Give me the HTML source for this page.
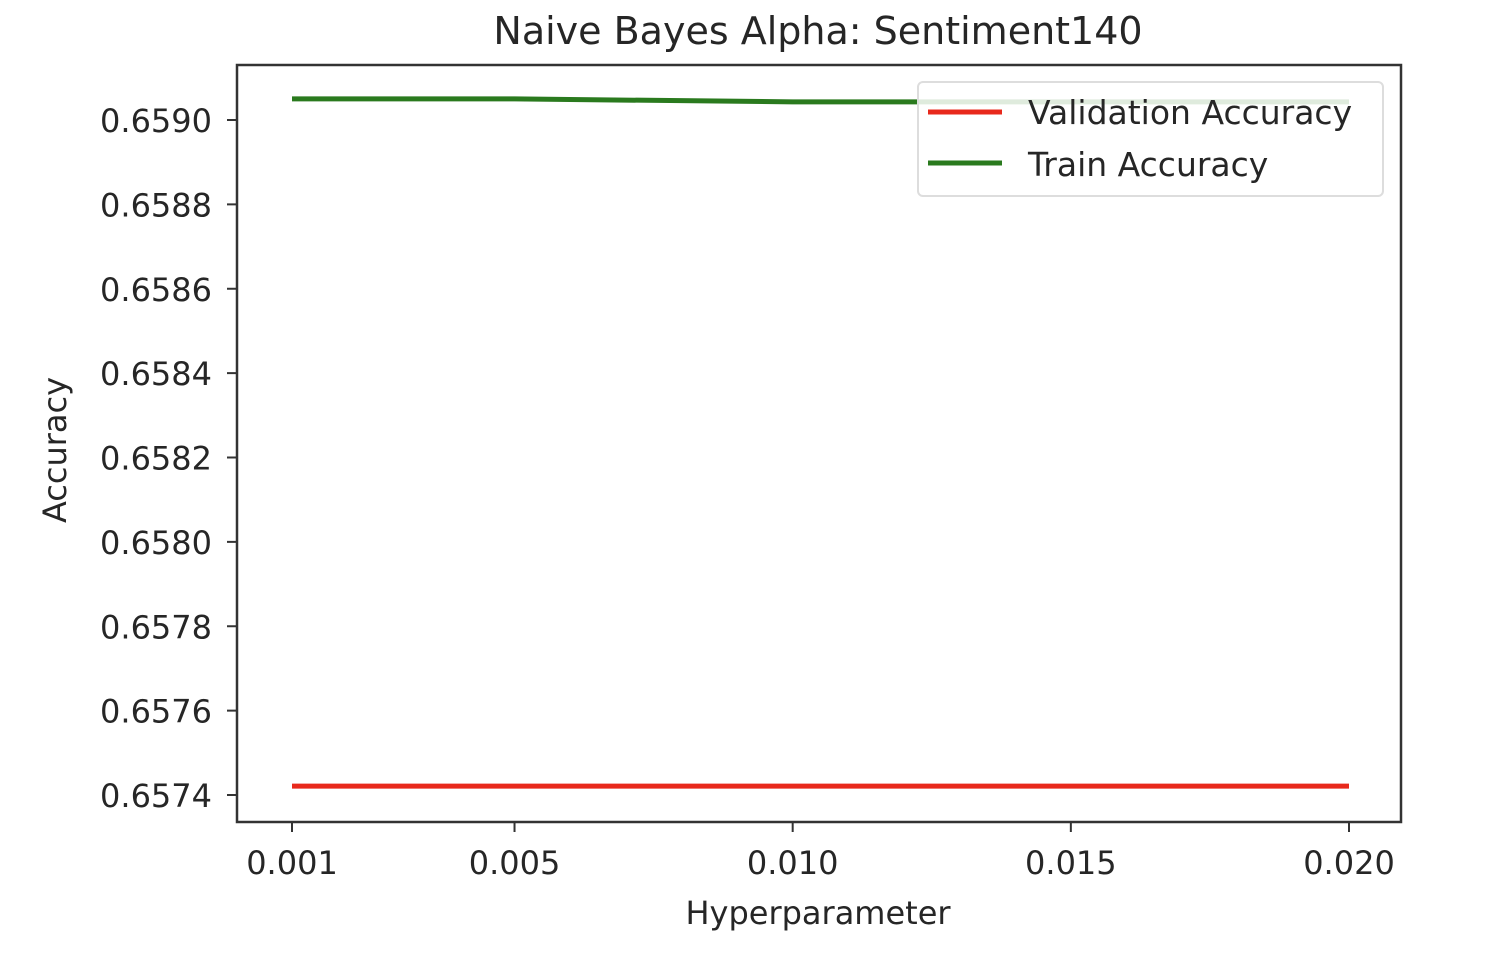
<!DOCTYPE html>
<html><head><meta charset="utf-8"><style>
body{margin:0;background:#fff;}
svg text{font-family:"DejaVu Sans","Liberation Sans",sans-serif;fill:#262626;}
</style></head><body>
<svg width="1494" height="952">
<rect width="1494" height="952" fill="#fff"/>
<text x="818" y="44" font-size="38" text-anchor="middle">Naive Bayes Alpha: Sentiment140</text>
<g id="plot"></g>
<rect x="237" y="65" width="1164" height="757" fill="none" stroke="#333" stroke-width="2.5"/>
<text x="818" y="924" font-size="32" text-anchor="middle">Hyperparameter</text>
<text transform="translate(66,450) rotate(-90)" font-size="32" text-anchor="middle">Accuracy</text>
<g>
<rect x="918" y="82" width="465" height="114" rx="5" fill="#fff" fill-opacity="0.85" stroke="#ddd" stroke-width="2"/>
<line x1="928" y1="112" x2="1002" y2="112" stroke="#e8291c" stroke-width="5"/>
<text x="1028" y="124" font-size="33">Validation Accuracy</text>
<line x1="928" y1="163" x2="1002" y2="163" stroke="#2a7a1e" stroke-width="5"/>
<text x="1028" y="176" font-size="33">Train Accuracy</text>
</g>
</svg>
<script>
const alphas=[0.001,0.005,0.010,0.015,0.020];
const trainAcc=[0.65905,0.65905,0.659043,0.659043,0.659043];
const valAcc=[0.657421,0.657421,0.657421,0.657421,0.657421];
const xTicks=[0.001,0.005,0.010,0.015,0.020];
const xTickLabels=["0.001","0.005","0.010","0.015","0.020"];
const yTicks=[0.6574,0.6576,0.6578,0.6580,0.6582,0.6584,0.6586,0.6588,0.6590];
const yTickLabels=["0.6574","0.6576","0.6578","0.6580","0.6582","0.6584","0.6586","0.6588","0.6590"];
const NS="http://www.w3.org/2000/svg";
const sx=v=>292+(v-0.001)/0.019*(1349-292);
const sy=v=>795-(v-0.6574)/0.0016*(795-120);
const g=document.getElementById('plot');
function mk(t,a){const e=document.createElementNS(NS,t);for(const k in a)e.setAttribute(k,a[k]);g.appendChild(e);return e;}
xTicks.forEach((v,i)=>{
 const l=mk('line',{x1:sx(v),x2:sx(v),y1:822,y2:832,stroke:'#333','stroke-width':2});
 
 
 const t=mk('text',{x:sx(v),y:874,'font-size':32,'text-anchor':'middle'});t.textContent=xTickLabels[i];
 
 
});
yTicks.forEach((v,i)=>{
 const l=mk('line',{x1:227,x2:237,y1:sy(v),y2:sy(v),stroke:'#333','stroke-width':2});
 
 
 const t=mk('text',{x:212,y:sy(v)+12,'font-size':32,'text-anchor':'end'});t.textContent=yTickLabels[i];
 
 
});
function path(arr){return arr.map((v,i)=>(i?'L':'M')+sx(alphas[i])+','+sy(v)).join(' ');}
const vl=mk('path',{d:path(valAcc),fill:'none',stroke:'#e8291c','stroke-width':5});


const tl=mk('path',{d:path(trainAcc),fill:'none',stroke:'#2a7a1e','stroke-width':5});


</script>
</body></html>
